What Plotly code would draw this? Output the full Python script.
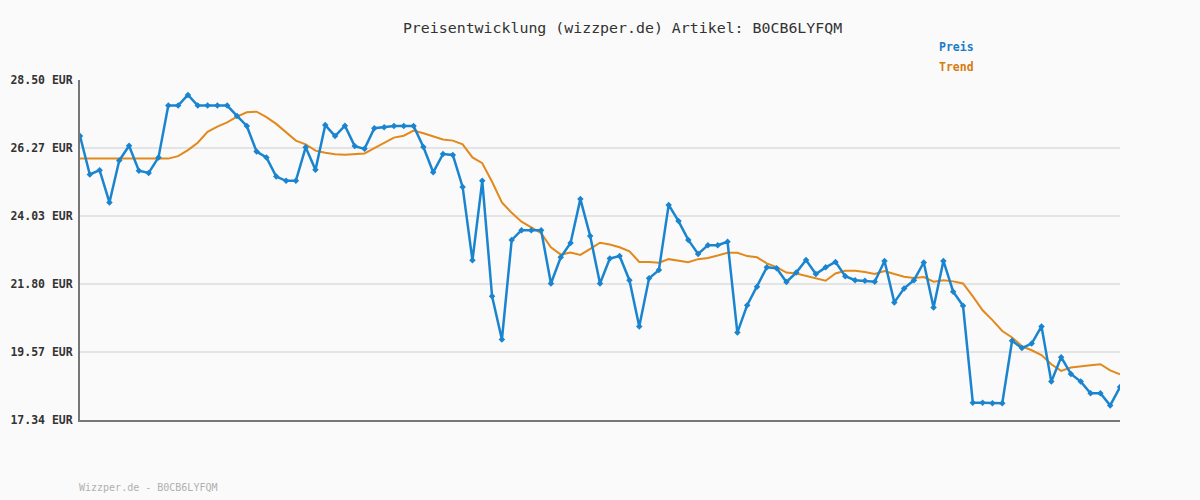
import plotly.graph_objects as go

preis = [26.66, 25.40, 25.54, 24.48, 25.86, 26.34, 25.52, 25.45, 25.96, 27.66,
         27.66, 28.01, 27.66, 27.66, 27.66, 27.66, 27.32, 26.99, 26.15, 25.96,
         25.33, 25.19, 25.19, 26.29, 25.55, 27.02, 26.66, 27.00, 26.33, 26.24,
         26.92, 26.95, 26.99, 26.99, 26.99, 26.30, 25.47, 26.07, 26.04, 24.99,
         22.58, 25.19, 21.40, 19.98, 23.25, 23.57, 23.57, 23.57, 21.82, 22.68,
         23.15, 24.59, 23.38, 21.82, 22.64, 22.72, 21.93, 20.41, 21.99, 22.26,
         24.40, 23.87, 23.25, 22.79, 23.08, 23.08, 23.19, 20.21, 21.11, 21.71,
         22.35, 22.32, 21.87, 22.18, 22.59, 22.13, 22.35, 22.53, 22.06, 21.93,
         21.91, 21.88, 22.56, 21.20, 21.66, 21.93, 22.51, 21.03, 22.56, 21.55,
         21.09, 17.91, 17.91, 17.89, 17.89, 19.94, 19.70, 19.85, 20.41, 18.60,
         19.40, 18.85, 18.60, 18.22, 18.22, 17.82, 18.42]

trend = [25.92, 25.92, 25.92, 25.92, 25.92, 25.92, 25.92, 25.92, 25.92, 25.92,
         26.00, 26.20, 26.44, 26.80, 26.97, 27.11, 27.30, 27.44, 27.46, 27.28,
         27.06, 26.77, 26.51, 26.39, 26.18, 26.11, 26.06, 26.05, 26.07, 26.09,
         26.26, 26.44, 26.61, 26.67, 26.84, 26.75, 26.66, 26.55, 26.51, 26.39,
         25.96, 25.77, 25.16, 24.48, 24.14, 23.85, 23.66, 23.47, 23.01, 22.77,
         22.84, 22.76, 22.96, 23.16, 23.10, 23.01, 22.88, 22.53, 22.53, 22.50,
         22.62, 22.56, 22.52, 22.62, 22.66, 22.74, 22.83, 22.83, 22.72, 22.68,
         22.48, 22.36, 22.18, 22.15, 22.07, 21.99, 21.91, 22.15, 22.24, 22.24,
         22.20, 22.13, 22.23, 22.13, 22.04, 22.00, 22.03, 21.88, 21.93, 21.89,
         21.82, 21.40, 20.94, 20.62, 20.26, 20.05, 19.76, 19.63, 19.47, 19.17,
         18.95, 19.06, 19.11, 19.14, 19.17, 18.97, 18.84]

x = list(range(len(preis)))

y_ticks = [17.34, 19.57, 21.80, 24.03, 26.27, 28.50]
y_tick_labels = ["17.34 EUR", "19.57 EUR", "21.80 EUR", "24.03 EUR", "26.27 EUR", "28.50 EUR"]

title_text = "Preisentwicklung (wizzper.de) Artikel: B0CB6LYFQM"
footer_text = "Wizzper.de - B0CB6LYFQM"
series_names = ["Preis", "Trend"]

BLUE = "#1a84cf"
ORANGE = "#e2891c"
MONO = "DejaVu Sans Mono, monospace"

fig = go.Figure()
fig.add_trace(go.Scatter(
    x=x, y=trend, mode="lines", name=series_names[1],
    line=dict(color=ORANGE, width=2), hoverinfo="y"))
fig.add_trace(go.Scatter(
    x=x, y=preis, mode="lines+markers", name=series_names[0],
    line=dict(color=BLUE, width=2.5),
    marker=dict(symbol="diamond", size=5, color=BLUE), hoverinfo="y"))

fig.update_layout(
    width=1200, height=500,
    paper_bgcolor="#fafafa", plot_bgcolor="#fafafa",
    margin=dict(l=80, r=80, t=80, b=80, autoexpand=False),
    showlegend=False,
    font=dict(family=MONO, color="#333333"),
    title=dict(text=title_text, x=626 / 1200, xref="paper", xanchor="center",
               y=1 - 28 / 500, yanchor="middle",
               font=dict(family=MONO, size=14.9, color="#333333")),
    xaxis=dict(range=[0, len(preis) - 1], showgrid=False, zeroline=False,
               showticklabels=False, ticks="", showline=True,
               linecolor="#777777", linewidth=2, automargin=False),
    yaxis=dict(range=[17.34, 28.50], tickvals=y_ticks, ticktext=y_tick_labels,
               showgrid=True, gridcolor="#e4e4e4", gridwidth=2, zeroline=False,
               showline=True, linecolor="#777777", linewidth=2,
               ticks="", ticklabelstandoff=3, automargin=False,
               tickfont=dict(family=MONO, size=11.5, color="#333333", weight="bold")),
    annotations=[
        dict(text="<b>" + series_names[0] + "</b>", xref="paper", yref="paper",
             x=(937 - 80) / 1040, y=1 + (80 - 47) / 340, xanchor="left", yanchor="middle",
             showarrow=False, font=dict(family=MONO, size=11.5, color="#1a7cc8")),
        dict(text="<b>" + series_names[1] + "</b>", xref="paper", yref="paper",
             x=(937 - 80) / 1040, y=1 + (80 - 67) / 340, xanchor="left", yanchor="middle",
             showarrow=False, font=dict(family=MONO, size=11.5, color="#d87a10")),
        dict(text=footer_text, xref="paper", yref="paper",
             x=-3 / 1040, y=-(487 - 420) / 340, xanchor="left", yanchor="middle",
             showarrow=False, font=dict(family=MONO, size=10, color="#b0b0b0")),
    ],
)

fig.write_html("out.html", config={"displayModeBar": False},
               post_script="document.body.style.margin='0';document.body.style.background='#fafafa';")
